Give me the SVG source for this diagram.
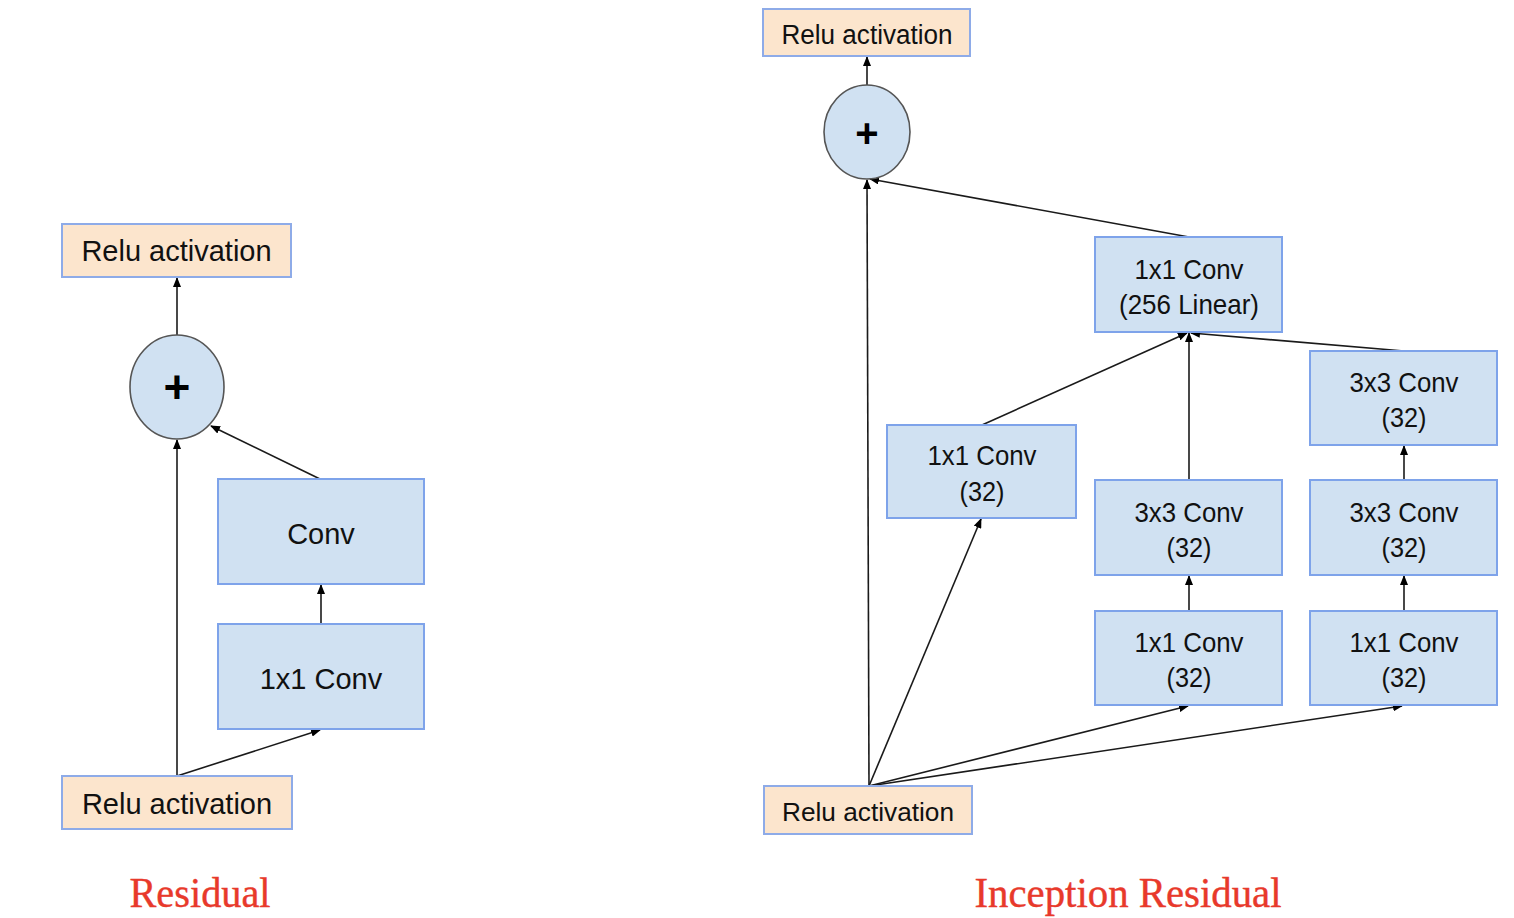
<svg xmlns="http://www.w3.org/2000/svg" width="1514" height="918" viewBox="0 0 1514 918">
<style>
.relu{fill:#fce5cd;stroke:#8eabe8;stroke-width:2}
.box{fill:#d0e1f2;stroke:#7ea3ea;stroke-width:2}
.sum{fill:#d0e1f2;stroke:#555;stroke-width:1.6}
.t{font-family:"Liberation Sans",Arial,sans-serif;fill:#111;text-anchor:middle}
.plus{font-family:"Liberation Sans",Arial,sans-serif;font-weight:bold;fill:#000;text-anchor:middle}
.title{font-family:"Liberation Serif","Times New Roman",serif;fill:#e8392b;stroke:#e8392b;stroke-width:0.4;text-anchor:middle}
.e{stroke:#1a1a1a;stroke-width:1.6;fill:none;marker-end:url(#ah)}
</style>
<defs>
<marker id="ah" markerUnits="userSpaceOnUse" markerWidth="10" markerHeight="8" refX="9" refY="4" orient="auto">
<path d="M0,0 L10,4 L0,8 Z" fill="#000"/>
</marker>
</defs>
<rect width="1514" height="918" fill="#fff"/>

<g id="connectors">
<line class="e" x1="177" y1="776" x2="177" y2="440"/>
<line class="e" x1="177" y1="776" x2="320" y2="730"/>
<line class="e" x1="321" y1="624" x2="321" y2="585"/>
<line class="e" x1="320" y1="479" x2="211" y2="426"/>
<line class="e" x1="177" y1="335" x2="177" y2="278"/>

<line class="e" x1="869" y1="786" x2="867" y2="180"/>
<line class="e" x1="869" y1="786" x2="981" y2="519"/>
<line class="e" x1="869" y1="786" x2="1188" y2="706"/>
<line class="e" x1="869" y1="786" x2="1402" y2="706"/>
<line class="e" x1="982" y1="425" x2="1187" y2="333"/>
<line class="e" x1="1189" y1="480" x2="1189" y2="333"/>
<line class="e" x1="1404" y1="351" x2="1191" y2="333"/>
<line class="e" x1="1404" y1="480" x2="1404" y2="446"/>
<line class="e" x1="1189" y1="611" x2="1189" y2="576"/>
<line class="e" x1="1404" y1="611" x2="1404" y2="576"/>
<line class="e" x1="1189" y1="237" x2="870" y2="179"/>
<line class="e" x1="867" y1="85" x2="867" y2="57"/>
</g>

<g id="l-relu-top"><rect class="relu" x="62" y="224" width="229" height="53"/><text class="t" x="176.5" y="261" font-size="29">Relu activation</text></g>
<g id="l-sum"><ellipse class="sum" cx="177" cy="387" rx="47" ry="52"/><text class="plus" x="177" y="403" font-size="46">+</text></g>
<g id="l-conv"><rect class="box" x="218" y="479" width="206" height="105"/><text class="t" x="321" y="544" font-size="29">Conv</text></g>
<g id="l-1x1"><rect class="box" x="218" y="624" width="206" height="105"/><text class="t" x="321" y="689" font-size="29">1x1 Conv</text></g>
<g id="l-relu-bot"><rect class="relu" x="62" y="776" width="230" height="53"/><text class="t" x="177" y="814" font-size="29">Relu activation</text></g>
<g id="l-title"><text class="title" x="200" y="907" font-size="42" textLength="141" lengthAdjust="spacingAndGlyphs">Residual</text></g>

<g id="r-relu-top"><rect class="relu" x="763" y="9" width="207" height="47"/><text class="t" x="867" y="44" font-size="27" textLength="171" lengthAdjust="spacingAndGlyphs">Relu activation</text></g>
<g id="r-sum"><ellipse class="sum" cx="867" cy="132" rx="43" ry="47"/><text class="plus" x="867" y="147" font-size="40">+</text></g>
<g id="r-1x1-256"><rect class="box" x="1095" y="237" width="187" height="95"/><text class="t" x="1189" y="279" font-size="28" textLength="109" lengthAdjust="spacingAndGlyphs">1x1 Conv</text><text class="t" x="1189" y="314" font-size="28" textLength="140" lengthAdjust="spacingAndGlyphs">(256 Linear)</text></g>
<g id="r-3x3-top"><rect class="box" x="1310" y="351" width="187" height="94"/><text class="t" x="1404" y="392" font-size="28" textLength="109" lengthAdjust="spacingAndGlyphs">3x3 Conv</text><text class="t" x="1404" y="427" font-size="28" textLength="45" lengthAdjust="spacingAndGlyphs">(32)</text></g>
<g id="r-1x1-left"><rect class="box" x="887" y="425" width="189" height="93"/><text class="t" x="982" y="465" font-size="28" textLength="109" lengthAdjust="spacingAndGlyphs">1x1 Conv</text><text class="t" x="982" y="501" font-size="28" textLength="45" lengthAdjust="spacingAndGlyphs">(32)</text></g>
<g id="r-3x3-mid"><rect class="box" x="1095" y="480" width="187" height="95"/><text class="t" x="1189" y="522" font-size="28" textLength="109" lengthAdjust="spacingAndGlyphs">3x3 Conv</text><text class="t" x="1189" y="557" font-size="28" textLength="45" lengthAdjust="spacingAndGlyphs">(32)</text></g>
<g id="r-3x3-right"><rect class="box" x="1310" y="480" width="187" height="95"/><text class="t" x="1404" y="522" font-size="28" textLength="109" lengthAdjust="spacingAndGlyphs">3x3 Conv</text><text class="t" x="1404" y="557" font-size="28" textLength="45" lengthAdjust="spacingAndGlyphs">(32)</text></g>
<g id="r-1x1-mid"><rect class="box" x="1095" y="611" width="187" height="94"/><text class="t" x="1189" y="652" font-size="28" textLength="109" lengthAdjust="spacingAndGlyphs">1x1 Conv</text><text class="t" x="1189" y="687" font-size="28" textLength="45" lengthAdjust="spacingAndGlyphs">(32)</text></g>
<g id="r-1x1-right"><rect class="box" x="1310" y="611" width="187" height="94"/><text class="t" x="1404" y="652" font-size="28" textLength="109" lengthAdjust="spacingAndGlyphs">1x1 Conv</text><text class="t" x="1404" y="687" font-size="28" textLength="45" lengthAdjust="spacingAndGlyphs">(32)</text></g>
<g id="r-relu-bot"><rect class="relu" x="764" y="786" width="208" height="48"/><text class="t" x="868" y="821" font-size="26" textLength="172" lengthAdjust="spacingAndGlyphs">Relu activation</text></g>
<g id="r-title"><text class="title" x="1128" y="907" font-size="42" textLength="307" lengthAdjust="spacingAndGlyphs">Inception Residual</text></g>
</svg>
